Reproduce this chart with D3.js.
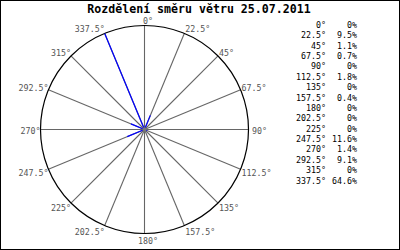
<!DOCTYPE html>
<html>
<head>
<meta charset="utf-8">
<script src="https://cdn.jsdelivr.net/npm/d3@7"></script>
<style>
  body { margin: 0; background: #fff; }
  svg text { font-family: "DejaVu Sans Mono", monospace; }
</style>
</head>
<body>
<div id="chart"></div>
<script>
// wind direction distribution
const title = "Rozdělení směru větru 25.07.2011";
const directions = [0, 22.5, 45, 67.5, 90, 112.5, 135, 157.5, 180, 202.5, 225, 247.5, 270, 292.5, 315, 337.5];
const percents = [0, 9.5, 1.1, 0.7, 0, 1.8, 0, 0.4, 0, 0, 0, 11.6, 1.4, 9.1, 0, 64.6];

const config = { width: 400, height: 250, cx: 144.5, cy: 129.5, radius: 104 };

const svg = d3.select("#chart").append("svg")
  .attr("width", config.width)
  .attr("height", config.height);

svg.append("rect")
  .attr("x", 0.5).attr("y", 0.5)
  .attr("width", config.width - 1).attr("height", config.height - 1)
  .attr("fill", "#fff").attr("stroke", "#000");

svg.append("text")
  .attr("x", 199).attr("y", 13)
  .attr("text-anchor", "middle")
  .style("font-size", "11.6px").style("font-weight", "bold")
  .text(title);

const angle = d3.scaleLinear().domain([0, 360]).range([0, 2 * Math.PI]);
const r = d3.scaleLinear().domain([0, d3.max(percents)]).range([0, config.radius]);

const g = svg.append("g").attr("transform", `translate(${config.cx},${config.cy})`);

function px(deg, len) { return Math.sin(angle(deg)) * len; }
function py(deg, len) { return -Math.cos(angle(deg)) * len; }

// spokes
g.selectAll("line.spoke")
  .data(directions)
  .enter().append("line")
  .attr("class", "spoke")
  .attr("x1", 0).attr("y1", 0)
  .attr("x2", d => px(d, config.radius))
  .attr("y2", d => py(d, config.radius))
  .attr("stroke", "#666")
  .attr("stroke-width", 1.1);

g.append("circle")
  .attr("r", config.radius)
  .attr("fill", "none")
  .attr("stroke", "#000")
  .attr("stroke-width", 1.2);

// spoke labels
g.selectAll("text.lab")
  .data(directions)
  .enter().append("text")
  .attr("class", "lab")
  .attr("x", d => {
    const s = Math.sin(angle(d));
    let x = px(d, config.radius);
    if (Math.abs(s) < 0.01) return x + 3.5;
    if (d === 90) return x + 3.5;
    return s > 0 ? x + 1 : x;
  })
  .attr("y", d => py(d, config.radius) + 1 - 6 * Math.cos(angle(d)) + 3)
  .attr("text-anchor", d => {
    const s = Math.sin(angle(d));
    if (Math.abs(s) < 0.01) return "middle";
    return s > 0 ? "start" : "end";
  })
  .attr("fill", "#555")
  .style("font-size", "8.3px")
  .text(d => d + "°");

// data lines
g.selectAll("line.val")
  .data(percents)
  .enter().append("line")
  .attr("class", "val")
  .attr("x1", 0).attr("y1", 0)
  .attr("x2", (d, i) => px(directions[i], r(d)))
  .attr("y2", (d, i) => py(directions[i], r(d)))
  .attr("stroke", "#0000ff")
  .attr("stroke-width", 1.2);

g.append("circle")
  .attr("r", 2.2)
  .attr("fill", "#777");

// legend
const ly = d3.scalePoint().domain(directions).range([25, 180.5]);
const legend = svg.append("g");
legend.selectAll("text.ldir")
  .data(directions)
  .enter().append("text")
  .attr("class", "ldir")
  .attr("x", 326)
  .attr("y", d => ly(d) + 3)
  .attr("text-anchor", "end")
  .style("font-size", "8.3px")
  .text(d => d + "°");
legend.selectAll("text.lval")
  .data(percents)
  .enter().append("text")
  .attr("class", "lval")
  .attr("x", 357)
  .attr("y", (d, i) => ly(directions[i]) + 3)
  .attr("text-anchor", "end")
  .style("font-size", "8.3px")
  .text(d => (d === 0 ? "0" : d.toFixed(1)) + "%");
</script>
</body>
</html>
